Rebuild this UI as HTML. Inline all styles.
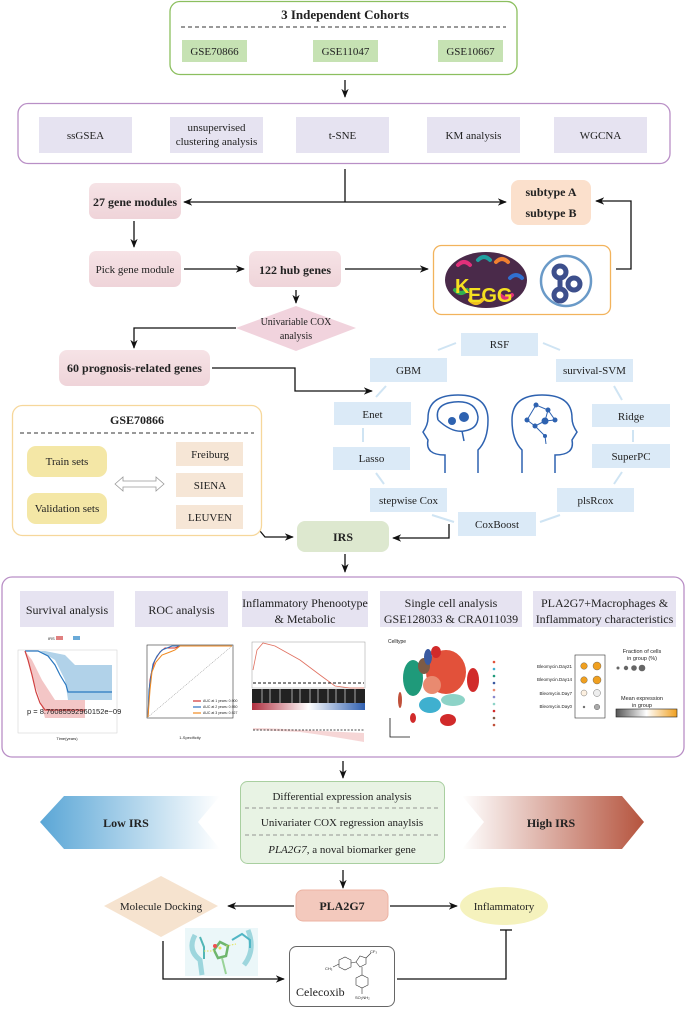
<!DOCTYPE html>
<html><head><meta charset="utf-8"><style>
html,body{margin:0;padding:0;background:#fff}
svg{display:block}
text{font-family:"Liberation Serif",serif;fill:#222}
.b{font-weight:bold}
</style></head><body>
<svg width="685" height="1009" viewBox="0 0 685 1009" xmlns="http://www.w3.org/2000/svg">
<defs>
<marker id="ar" viewBox="0 0 10 10" refX="9" refY="5" markerWidth="7" markerHeight="7" orient="auto-start-reverse"><path d="M0,1 L10,5 L0,9 L3,5 z" fill="#111"/></marker>
<linearGradient id="lowg" x1="0" x2="1"><stop offset="0" stop-color="#5aa6d6"/><stop offset="1" stop-color="#fff"/></linearGradient>
<linearGradient id="highg" x1="0" x2="1"><stop offset="0" stop-color="#fff"/><stop offset="1" stop-color="#b5543e"/></linearGradient>
<linearGradient id="cb" x1="0" x2="1"><stop offset="0" stop-color="#555"/><stop offset="0.5" stop-color="#fff"/><stop offset="1" stop-color="#f0a020"/></linearGradient>
<linearGradient id="rb" x1="0" x2="1"><stop offset="0" stop-color="#b03040"/><stop offset="0.5" stop-color="#fff"/><stop offset="1" stop-color="#3060b0"/></linearGradient>
<linearGradient id="ps" x1="0" x2="0" y1="0" y2="1"><stop offset="0" stop-color="#f6e3e6"/><stop offset="1" stop-color="#efd4d9"/></linearGradient>
</defs>
<g stroke="#111" stroke-width="1.3" fill="none">
<rect x="170" y="1.5" width="347" height="73" rx="10" stroke="#8cbf5f" fill="#fff"/>
<line x1="181" y1="27" x2="506" y2="27" stroke="#333" stroke-dasharray="4,3" stroke-width="0.9"/>
<line x1="345" y1="80" x2="345" y2="97" marker-end="url(#ar)"/>
<rect x="18" y="103.5" width="652" height="60" rx="10" stroke="#b98fc6" fill="#fff"/>
<polyline points="345,169 345,202"/>
<line x1="345" y1="202" x2="184" y2="202" marker-end="url(#ar)"/>
<line x1="345" y1="202" x2="506" y2="202" marker-end="url(#ar)"/>
<line x1="134" y1="221" x2="134" y2="247" marker-end="url(#ar)"/>
<line x1="184" y1="269" x2="244" y2="269" marker-end="url(#ar)"/>
<line x1="345" y1="269" x2="428" y2="269" marker-end="url(#ar)"/>
<polyline points="616,269 631,269 631,201 596,201" marker-end="url(#ar)"/>
<line x1="296" y1="290" x2="296" y2="303" marker-end="url(#ar)"/>
<polyline points="236,328 134,328 134,348" marker-end="url(#ar)"/>
<polyline points="212,368 295,368 295,391 372,391" marker-end="url(#ar)"/>
<polyline points="260,531 265,537 293,537" marker-end="url(#ar)"/>
<polyline points="449,524 449,538 393,538" marker-end="url(#ar)"/>
<line x1="345" y1="554" x2="345" y2="572" marker-end="url(#ar)"/>
<line x1="343" y1="761" x2="343" y2="778" marker-end="url(#ar)"/>
<line x1="343" y1="870" x2="343" y2="888" marker-end="url(#ar)"/>
<line x1="294" y1="906" x2="228" y2="906" marker-end="url(#ar)"/>
<line x1="390" y1="906" x2="457" y2="906" marker-end="url(#ar)"/>
<polyline points="163,941 163,979 284,979" marker-end="url(#ar)"/>
<polyline points="397,979 506,979 506,930"/>
<line x1="500" y1="930" x2="512" y2="930"/>
</g>
<text x="345" y="19" text-anchor="middle" font-size="13" class="b">3 Independent Cohorts</text>
<rect x="182" y="40" width="65" height="22" fill="#c6e2b3"/><text x="214.5" y="55" text-anchor="middle" font-size="11">GSE70866</text>
<rect x="313" y="40" width="65" height="22" fill="#c6e2b3"/><text x="345.5" y="55" text-anchor="middle" font-size="11">GSE11047</text>
<rect x="438" y="40" width="65" height="22" fill="#c6e2b3"/><text x="470.5" y="55" text-anchor="middle" font-size="11">GSE10667</text>
<g fill="#e6e3f1">
<rect x="39" y="117" width="93" height="36"/><rect x="170" y="117" width="93" height="36"/><rect x="296" y="117" width="93" height="36"/><rect x="427" y="117" width="93" height="36"/><rect x="554" y="117" width="93" height="36"/></g>
<g font-size="11" text-anchor="middle">
<text x="85.5" y="139">ssGSEA</text>
<text x="216.5" y="131">unsupervised</text><text x="216.5" y="145">clustering analysis</text>
<text x="342.5" y="139">t-SNE</text><text x="473.5" y="139">KM analysis</text><text x="600.5" y="139">WGCNA</text></g>
<rect x="89" y="183" width="92" height="36" rx="7" fill="url(#ps)"/><text x="135" y="206" text-anchor="middle" font-size="12" class="b">27 gene modules</text>
<rect x="89" y="251" width="92" height="36" rx="7" fill="url(#ps)"/><text x="135" y="273" text-anchor="middle" font-size="11">Pick gene module</text>
<rect x="249" y="251" width="92" height="36" rx="7" fill="url(#ps)"/><text x="295" y="274" text-anchor="middle" font-size="12" class="b">122 hub genes</text>
<rect x="511" y="180" width="80" height="45" rx="8" fill="#fbe0cc"/>
<text x="551" y="196" text-anchor="middle" font-size="12" class="b">subtype A</text><text x="551" y="217" text-anchor="middle" font-size="12" class="b">subtype B</text>
<rect x="433.5" y="245.5" width="177" height="69" rx="8" fill="#fff" stroke="#f2b35c" stroke-width="1.3"/>
<ellipse cx="486" cy="280" rx="41" ry="28" fill="#4a2a4a"/>
<g fill="none" stroke-width="4" stroke-linecap="round">
<path d="M458,265 q6,-6 12,0" stroke="#e0307a"/><path d="M478,260 q6,-6 12,0" stroke="#20a0a0"/><path d="M496,262 q6,-6 12,0" stroke="#f08030"/>
<path d="M455,290 q6,6 12,0" stroke="#30b050"/><path d="M500,295 q6,6 12,0" stroke="#e0307a"/><path d="M510,278 q6,-6 12,0" stroke="#3070d0"/><path d="M470,300 q6,6 12,0" stroke="#f0c020"/></g>
<text x="455" y="293" font-size="20" class="b" style="fill:#f5e020;font-family:'Liberation Sans',sans-serif">K</text>
<text x="468" y="302" font-size="20" class="b" style="fill:#f5e020;font-family:'Liberation Sans',sans-serif">EGG</text>
<circle cx="566" cy="281" r="25" fill="#fff" stroke="#6a9ac8" stroke-width="2.5"/>
<g fill="none" stroke="#3d4f8c" stroke-width="5"><circle cx="560" cy="272" r="6"/><circle cx="574" cy="284" r="6"/><circle cx="560" cy="295" r="6"/><path d="M560,278 L560,289"/></g>
<polygon points="296,306 356,328 296,351 236,328" fill="#f1d3dd"/>
<text x="296" y="325" text-anchor="middle" font-size="10">Univariable COX</text><text x="296" y="339" text-anchor="middle" font-size="10">analysis</text>
<rect x="59" y="350" width="151" height="36" rx="8" fill="url(#ps)"/><text x="134.5" y="372" text-anchor="middle" font-size="12" class="b">60 prognosis-related genes</text>
<g stroke="#cfe4f3" stroke-width="2" fill="none">
<path d="M456,343 L438,350"/><path d="M543,343 L560,350"/><path d="M386,386 L376,397"/><path d="M614,386 L622,400"/>
<line x1="363" y1="428" x2="363" y2="442"/><line x1="633" y1="430" x2="633" y2="442"/>
<path d="M376,473 L384,484"/><path d="M622,472 L614,484"/><path d="M432,515 L454,522"/><path d="M540,522 L560,515"/></g>
<g fill="#dbeaf7">
<rect x="461" y="333" width="77" height="23"/><rect x="370" y="358" width="77" height="24"/><rect x="556" y="359" width="77" height="23"/>
<rect x="334" y="402" width="77" height="23"/><rect x="592" y="404" width="78" height="23"/><rect x="333" y="447" width="77" height="23"/>
<rect x="592" y="444" width="78" height="24"/><rect x="370" y="488" width="77" height="24"/><rect x="557" y="488" width="77" height="24"/><rect x="458" y="512" width="78" height="24"/></g>
<g font-size="11" text-anchor="middle">
<text x="499.5" y="348">RSF</text><text x="408.5" y="374">GBM</text><text x="594.5" y="374">survival-SVM</text>
<text x="372.5" y="418">Enet</text><text x="631" y="420">Ridge</text><text x="371.5" y="462">Lasso</text><text x="631" y="460">SuperPC</text>
<text x="408.5" y="504">stepwise Cox</text><text x="595.5" y="504">plsRcox</text><text x="497" y="528">CoxBoost</text></g>
<g fill="none" stroke="#2e62b0" stroke-width="1.5">
<path d="M445,473 L445,455 Q425,455 428,440 L423,432 Q428,425 428,418 Q428,395 458,395 Q488,395 488,420 Q488,440 478,450 L478,473"/>
<path d="M555,473 L555,455 Q575,455 572,440 L577,432 Q572,425 572,418 Q572,395 542,395 Q512,395 512,420 Q512,440 522,450 L522,473"/>
<path d="M438,420 q-4,-16 16,-18 q22,-2 24,15 q0,12 -14,14 q-12,2 -26,-11"/><path d="M462,431 l2,10"/></g>
<g fill="#2e62b0"><circle cx="452" cy="421" r="4"/><circle cx="464" cy="417" r="5"/>
<circle cx="527" cy="420" r="2.5"/><circle cx="536" cy="405" r="2.5"/><circle cx="548" cy="410" r="2.5"/><circle cx="545" cy="421" r="3.5"/><circle cx="535" cy="426" r="2.5"/><circle cx="555" cy="420" r="2.5"/><circle cx="545" cy="436" r="2"/></g>
<g stroke="#2e62b0" stroke-width="1" fill="none"><path d="M527,420 L536,405 L548,410 L545,421 L535,426 L527,420 M548,410 L555,420 L545,421 M535,426 L545,436 L546,444"/></g>
<rect x="12.5" y="405.5" width="249" height="130" rx="10" fill="#fff" stroke="#f6d79b" stroke-width="1.3"/>
<text x="137" y="424" text-anchor="middle" font-size="12" class="b">GSE70866</text>
<line x1="20" y1="433" x2="254" y2="433" stroke="#333" stroke-dasharray="4,3" stroke-width="0.9"/>
<rect x="27" y="446" width="80" height="31" rx="9" fill="#f4e7a6"/><text x="67" y="465" text-anchor="middle" font-size="11">Train sets</text>
<rect x="27" y="493" width="80" height="31" rx="9" fill="#f4e7a6"/><text x="67" y="512" text-anchor="middle" font-size="11">Validation sets</text>
<path d="M115,484 L123,477 L123,481 L156,481 L156,477 L164,484 L156,491 L156,487 L123,487 L123,491 z" fill="#fff" stroke="#999" stroke-width="0.8"/>
<g fill="#f6e6d6"><rect x="176" y="442" width="67" height="24"/><rect x="176" y="473" width="67" height="24"/><rect x="176" y="505" width="67" height="24"/></g>
<g font-size="11" text-anchor="middle"><text x="210" y="458">Freiburg</text><text x="210" y="489">SIENA</text><text x="210" y="521">LEUVEN</text></g>
<rect x="297" y="521" width="92" height="31" rx="8" fill="#dde8cf"/><text x="343" y="541" text-anchor="middle" font-size="12" class="b">IRS</text>
<rect x="2" y="577" width="682" height="180" rx="10" fill="#fff" stroke="#b98fc6" stroke-width="1.3"/>
<g fill="#e6e3f1"><rect x="20" y="591" width="94" height="36"/><rect x="135" y="591" width="93" height="36"/><rect x="242" y="591" width="126" height="36"/><rect x="380" y="591" width="142" height="36"/><rect x="533" y="591" width="143" height="36"/></g>
<g font-size="12" text-anchor="middle">
<text x="67" y="614">Survival analysis</text><text x="181.5" y="614">ROC analysis</text>
<text x="305" y="607">Inflammatory Phenootype</text><text x="305" y="623">&amp; Metabolic</text>
<text x="451" y="607">Single cell analysis</text><text x="451" y="623">GSE128033 &amp; CRA011039</text>
<text x="604.5" y="607">PLA2G7+Macrophages &amp;</text><text x="604.5" y="623">Inflammatory characteristics</text></g>
<g>
<text x="48" y="640" font-size="4" style="font-family:'Liberation Sans',sans-serif">IRS</text>
<rect x="56" y="636" width="7" height="4" fill="#e08080"/><rect x="73" y="636" width="7" height="4" fill="#6aaad8"/>
<rect x="18" y="650" width="99" height="83" fill="#fff" stroke="#ccc" stroke-width="0.5"/>
<path d="M25,651 L40,651 L55,660 L65,680 L68,700 L112,700 L112,665 L75,665 L65,655 L45,651 L25,651 z" fill="#9ec7e4" opacity="0.8"/>
<path d="M25,651 L30,670 L40,700 L45,718 L85,718 L85,700 L55,700 L42,680 L32,660 z" fill="#f0b8b8" opacity="0.8"/>
<polyline points="25,651 38,651 48,656 55,665 60,675 66,685 68,692 112,692" fill="none" stroke="#2a78c0" stroke-width="1.2"/>
<polyline points="25,651 28,660 32,675 36,692 40,703 45,710 85,710" fill="none" stroke="#d04040" stroke-width="1.2"/>
<text x="27" y="714" font-size="7.5" style="font-family:'Liberation Sans',sans-serif">p = 8.76085592960152e−09</text>
<text x="67" y="740" font-size="4" text-anchor="middle" style="font-family:'Liberation Sans',sans-serif">Time(years)</text>
<rect x="147" y="645" width="86" height="73" fill="#fff" stroke="#333" stroke-width="0.6"/>
<line x1="148" y1="717" x2="232" y2="646" stroke="#666" stroke-width="0.5" stroke-dasharray="1,1"/>
<polyline points="148,717 149,695 150,680 152,670 155,660 160,652 165,648 175,648 180,646 232,646" fill="none" stroke="#d03030" stroke-width="1"/>
<polyline points="148,717 149,690 151,676 153,664 157,656 162,650 167,648 172,646 232,646" fill="none" stroke="#2a70c0" stroke-width="1"/>
<polyline points="148,717 150,690 152,672 156,662 162,655 170,652 175,650 180,646 232,646" fill="none" stroke="#f08a20" stroke-width="1"/>
<g stroke-width="1.2"><line x1="193" y1="701" x2="201" y2="701" stroke="#d03030"/><line x1="193" y1="707" x2="201" y2="707" stroke="#2a70c0"/><line x1="193" y1="713" x2="201" y2="713" stroke="#f08a20"/></g>
<g font-size="3.5"><text x="203" y="702" style="font-family:'Liberation Sans',sans-serif">AUC at 1 years: 0.900</text><text x="203" y="708" style="font-family:'Liberation Sans',sans-serif">AUC at 2 years: 0.950</text><text x="203" y="714" style="font-family:'Liberation Sans',sans-serif">AUC at 3 years: 0.927</text></g>
<text x="190" y="739" font-size="4" text-anchor="middle" style="font-family:'Liberation Sans',sans-serif">1-Specificity</text>
<rect x="252" y="642" width="113" height="46" fill="#fff" stroke="#999" stroke-width="0.5"/>
<polyline points="253,670 257,650 263,643 275,646 300,660 320,675 335,686 350,688 364,688" fill="none" stroke="#e07060" stroke-width="0.8"/>
<line x1="253" y1="683" x2="364" y2="683" stroke="#111" stroke-dasharray="3,2" stroke-width="0.9"/>
<rect x="252" y="689" width="113" height="14" fill="#222"/>
<g stroke="#fff" stroke-width="0.6">
<line x1="262" y1="689" x2="262" y2="703"/><line x1="270" y1="689" x2="270" y2="703"/><line x1="280" y1="689" x2="280" y2="703"/><line x1="292" y1="689" x2="292" y2="703"/><line x1="300" y1="689" x2="300" y2="703"/><line x1="310" y1="689" x2="310" y2="703"/><line x1="318" y1="689" x2="318" y2="703"/><line x1="328" y1="689" x2="328" y2="703"/><line x1="336" y1="689" x2="336" y2="703"/><line x1="345" y1="689" x2="345" y2="703"/><line x1="355" y1="689" x2="355" y2="703"/></g>
<rect x="252" y="703" width="113" height="7" fill="url(#rb)"/>
<path d="M253,712 L253,728 Q270,728 300,730 L364,733 L364,742 Q330,736 300,732 L253,730" fill="#f2c4c4" opacity="0.7"/>
<line x1="253" y1="730" x2="364" y2="730" stroke="#111" stroke-dasharray="2,1.5" stroke-width="0.7"/>
<text x="388" y="643" font-size="5" style="font-family:'Liberation Sans',sans-serif">Celltype</text>
<ellipse cx="446" cy="672" rx="20" ry="22" fill="#e2513a"/>
<ellipse cx="413" cy="678" rx="10" ry="18" fill="#1f9a7a"/>
<ellipse cx="424" cy="666" rx="6" ry="8" fill="#7d5b45"/>
<ellipse cx="428" cy="657" rx="4" ry="8" fill="#3a5aa0"/>
<ellipse cx="436" cy="652" rx="5" ry="6" fill="#d12a2a"/>
<ellipse cx="432" cy="685" rx="9" ry="9" fill="#e98a70"/>
<ellipse cx="430" cy="705" rx="11" ry="8" fill="#3fb0cf"/>
<ellipse cx="453" cy="700" rx="12" ry="6" fill="#8dd3c7"/>
<ellipse cx="473" cy="680" rx="6" ry="12" fill="#d12a2a"/>
<ellipse cx="448" cy="720" rx="8" ry="6" fill="#d12a2a"/>
<ellipse cx="413" cy="718" rx="3" ry="5" fill="#d12a2a"/>
<ellipse cx="400" cy="700" rx="2" ry="8" fill="#c0503a"/>
<g>
<circle cx="494" cy="662" r="1.3" fill="#e2513a"/><circle cx="494" cy="669" r="1.3" fill="#3fb0cf"/><circle cx="494" cy="676" r="1.3" fill="#1f9a7a"/><circle cx="494" cy="683" r="1.3" fill="#3a5aa0"/><circle cx="494" cy="690" r="1.3" fill="#e98a70"/><circle cx="494" cy="697" r="1.3" fill="#8888cc"/><circle cx="494" cy="704" r="1.3" fill="#8dd3c7"/><circle cx="494" cy="711" r="1.3" fill="#d12a2a"/><circle cx="494" cy="718" r="1.3" fill="#7d5b45"/><circle cx="494" cy="725" r="1.3" fill="#c0503a"/></g>
<polyline points="390,718 390,737 410,737" fill="none" stroke="#111" stroke-width="0.8"/>
<rect x="575" y="655" width="30" height="63" fill="#fff" stroke="#333" stroke-width="0.6"/>
<g font-size="4.5" text-anchor="end">
<text x="572" y="668" style="font-family:'Liberation Sans',sans-serif">Bleomycin.Day21</text><text x="572" y="681" style="font-family:'Liberation Sans',sans-serif">Bleomycin.Day14</text><text x="572" y="695" style="font-family:'Liberation Sans',sans-serif">Bleomycin.Day7</text><text x="572" y="708" style="font-family:'Liberation Sans',sans-serif">Bleomycin.Day0</text></g>
<g stroke="#555" stroke-width="0.4">
<circle cx="584" cy="666" r="3.3" fill="#f0a020"/><circle cx="597" cy="666" r="4" fill="#f0a020"/>
<circle cx="584" cy="680" r="3.3" fill="#f0a020"/><circle cx="597" cy="680" r="4" fill="#f0a020"/>
<circle cx="584" cy="693" r="3" fill="#fdf0e0"/><circle cx="597" cy="693" r="3.5" fill="#eee"/>
<circle cx="584" cy="707" r="1" fill="#777"/><circle cx="597" cy="707" r="2.8" fill="#aaa"/></g>
<text x="642" y="653" font-size="5.5" text-anchor="middle" style="font-family:'Liberation Sans',sans-serif">Fraction of cells</text>
<text x="642" y="660" font-size="5.5" text-anchor="middle" style="font-family:'Liberation Sans',sans-serif">in group (%)</text>
<g fill="#666"><circle cx="618" cy="668" r="1.5"/><circle cx="626" cy="668" r="2.2"/><circle cx="634" cy="668" r="2.8"/><circle cx="642" cy="668" r="3.3"/></g>
<text x="642" y="700" font-size="5.5" text-anchor="middle" style="font-family:'Liberation Sans',sans-serif">Mean expression</text>
<text x="642" y="707" font-size="5.5" text-anchor="middle" style="font-family:'Liberation Sans',sans-serif">in group</text>
<rect x="616" y="709" width="61" height="8" fill="url(#cb)" stroke="#222" stroke-width="0.6"/>
</g>
<polygon points="64,796 220,796 198,822 220,849 64,849 40,822" fill="url(#lowg)"/>
<polygon points="462,796 622,796 644,822 622,849 462,849 484,822" fill="url(#highg)"/>
<text x="126" y="827" text-anchor="middle" font-size="12" class="b">Low IRS</text>
<text x="551" y="827" text-anchor="middle" font-size="12" class="b">High IRS</text>
<rect x="240.5" y="781.5" width="204" height="82" rx="7" fill="#e8f3e4" stroke="#a9cfa0" stroke-width="1"/>
<line x1="245" y1="808" x2="440" y2="808" stroke="#777" stroke-dasharray="4,3" stroke-width="0.8"/>
<line x1="245" y1="835" x2="440" y2="835" stroke="#777" stroke-dasharray="4,3" stroke-width="0.8"/>
<g font-size="11" text-anchor="middle"><text x="342" y="800">Differential expression analysis</text><text x="342" y="826">Univariater COX regression anaylsis</text><text x="342" y="853"><tspan font-style="italic">PLA2G7</tspan>, a noval biomarker gene</text></g>
<rect x="296" y="890" width="92" height="31" rx="7" fill="#f3c9bd" stroke="#ecb3a3" stroke-width="1"/>
<text x="342" y="910" text-anchor="middle" font-size="12" class="b">PLA2G7</text>
<polygon points="161,876 218,906 161,937 104,906" fill="#f6e3cf"/>
<text x="161" y="910" text-anchor="middle" font-size="11">Molecule Docking</text>
<ellipse cx="504" cy="906" rx="44" ry="19" fill="#f5f2bd"/>
<text x="504" y="910" text-anchor="middle" font-size="11">Inflammatory</text>
<g opacity="0.85"><rect x="185" y="928" width="73" height="48" fill="#e8f6f8"/>
<path d="M195,935 q-8,15 5,25 l2,15" stroke="#8ccfd8" stroke-width="5" fill="none"/><path d="M248,930 q8,20 -4,35" stroke="#8ccfd8" stroke-width="5" fill="none"/>
<path d="M200,937 l4,10 l0,12" stroke="#3aa" stroke-width="2" fill="none"/><path d="M232,940 l10,-6 l8,6 l0,8" stroke="#3ab" stroke-width="2" fill="none"/>
<path d="M214,950 l6,-8 l8,4 l-2,10 l-8,2 z" stroke="#5a5" stroke-width="2.5" fill="none"/><circle cx="215" cy="946" r="2" fill="#e33"/><circle cx="220" cy="948" r="1.5" fill="#dd3"/>
<path d="M222,958 l4,16" stroke="#8c8" stroke-width="2" fill="none"/>
<line x1="204" y1="951" x2="214" y2="951" stroke="#dd3" stroke-dasharray="1.5,1.5"/><line x1="226" y1="946" x2="236" y2="944" stroke="#dd3" stroke-dasharray="1.5,1.5"/></g>
<rect x="289.5" y="946.5" width="105" height="60" rx="7" fill="#fff" stroke="#666" stroke-width="1"/>
<text x="296" y="996" font-size="12">Celecoxib</text>
<g stroke="#333" stroke-width="0.6" fill="none">
<polygon points="339,960 345,957 351,960 351,967 345,970 339,967"/>
<polygon points="356,962 360,956 366,958 366,964 360,967"/>
<polygon points="356,978 362,975 368,978 368,985 362,988 356,985"/>
<line x1="351" y1="963" x2="356" y2="962"/><line x1="362" y1="967" x2="362" y2="975"/><line x1="366" y1="958" x2="371" y2="953"/><line x1="339" y1="964" x2="333" y2="967"/><line x1="362" y1="988" x2="362" y2="994"/></g>
<text x="325" y="970" font-size="4" style="font-family:'Liberation Sans',sans-serif">CH₃</text>
<text x="370" y="953" font-size="4" style="font-family:'Liberation Sans',sans-serif">CF₃</text>
<text x="355" y="999" font-size="4" style="font-family:'Liberation Sans',sans-serif">SO₂NH₂</text>
</svg>
</body></html>
